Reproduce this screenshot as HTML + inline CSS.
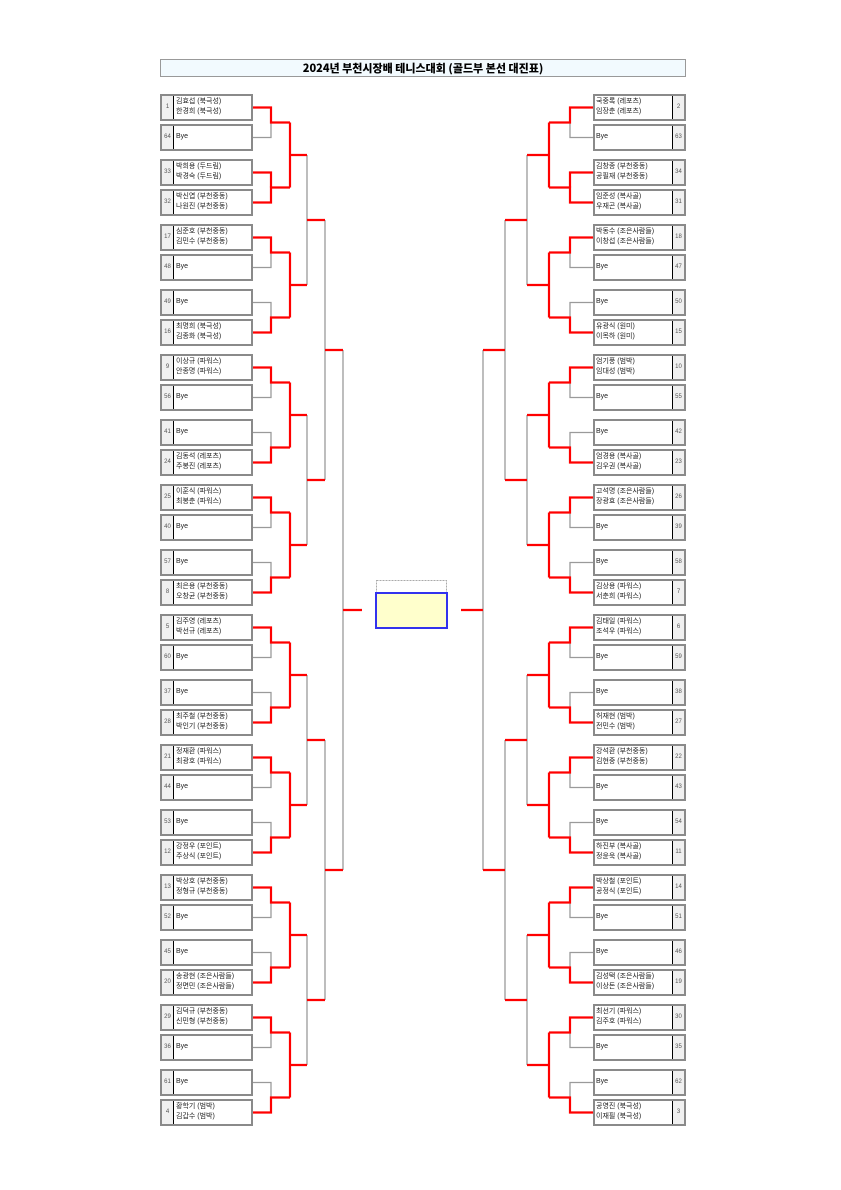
<!DOCTYPE html>
<html><head><meta charset="utf-8">
<style>
*{margin:0;padding:0;box-sizing:border-box}
body{width:841px;height:1190px;background:#fff;position:relative;overflow:hidden;font-family:"Liberation Sans","Noto Sans CJK KR","NanumGothic",sans-serif}
.t{position:absolute;left:160px;top:59px;width:526px;height:18px;border:1px solid #999;background:#f2fafe;text-align:center;font-size:11px;font-weight:900;line-height:16px;color:#000;font-family:"Noto Sans CJK KR","NanumGothic",sans-serif}
.b{position:absolute;width:93px;height:27px;border:2px solid #8a8a8a;background:#fff;font-size:7px;color:#222;line-height:10px}
.L{left:160px}.R{left:593px}
.n{position:absolute;top:0;width:12px;height:23px;background:#f0f0f0;font-size:6px;color:#555;text-align:center;line-height:23px}
.L .n{left:0;border-right:1.5px solid #000}
.R .n{right:0;border-left:1.5px solid #000}
.x{position:absolute;top:1px;white-space:nowrap}
.L .x{left:14px}.R .x{left:1px}
.x.one{top:6px}
svg{position:absolute;left:0;top:0}
</style></head><body>
<div class="t">2024년 부천시장배 테니스대회 (골드부 본선 대진표)</div>

<svg width="841" height="1190">
<defs>
<g id="lg" fill="none" stroke="#9a9a9a" stroke-width="1.3">
<path d="M253 137.5H271V122.5M253 172.5H271V187.5M253 267.5H271V252.5M253 302.5H271V317.5M307 155V285"/>
</g>
<g id="lr" fill="none" stroke="#f00" stroke-width="2.2">
<path d="M253 107.5H271V122.5H290M253 202.5H271V187.5H290M253 237.5H271V252.5H290M253 332.5H271V317.5H290M290 122.5V187.5M290 155H307M290 252.5V317.5M290 285H307M307 220H325"/>
</g>
<g id="rg" fill="none" stroke="#9a9a9a" stroke-width="1.3">
<path d="M593 137.5H570V122.5M593 172.5H570V187.5M593 267.5H570V252.5M593 302.5H570V317.5M527 155V285"/>
</g>
<g id="rr" fill="none" stroke="#f00" stroke-width="2.2">
<path d="M593 107.5H570V122.5H549M593 202.5H570V187.5H549M593 237.5H570V252.5H549M593 332.5H570V317.5H549M549 122.5V187.5M549 155H527M549 252.5V317.5M549 285H527M527 220H505"/>
</g>
</defs>
<use href="#lg"/><use href="#lg" transform="translate(0,260)"/><use href="#lg" transform="translate(0,520)"/><use href="#lg" transform="translate(0,780)"/>
<use href="#rg"/><use href="#rg" transform="translate(0,260)"/><use href="#rg" transform="translate(0,520)"/><use href="#rg" transform="translate(0,780)"/>
<path d="M325 220V480M325 740V1000M343 350V870M505 220V480M505 740V1000M483 350V870" fill="none" stroke="#9a9a9a" stroke-width="1.3"/>
<use href="#lr"/><use href="#lr" transform="translate(0,260)"/><use href="#lr" transform="translate(0,520)"/><use href="#lr" transform="translate(0,780)"/>
<use href="#rr"/><use href="#rr" transform="translate(0,260)"/><use href="#rr" transform="translate(0,520)"/><use href="#rr" transform="translate(0,780)"/>
<path d="M253 172.5H271V187.5M593 172.5H570V187.5M325 350H343M325 870H343M343 610H362M505 350H483M505 870H483M483 610H461" fill="none" stroke="#f00" stroke-width="2.2"/>
<rect x="376.5" y="580.5" width="70" height="13" fill="#fff" stroke="#aaa" stroke-width="1" stroke-dasharray="2,1"/>
<rect x="376" y="593" width="71" height="35" fill="#ffffcc" stroke="#3333ee" stroke-width="2"/>
</svg>

<!-- LEFT -->
<div class="b L" style="top:94px"><div class="n">1</div><div class="x">김효섭 (북극성)<br>한경희 (북극성)</div></div>
<div class="b L" style="top:124px"><div class="n">64</div><div class="x one">Bye</div></div>
<div class="b L" style="top:159px"><div class="n">33</div><div class="x">박희용 (두드림)<br>박경숙 (두드림)</div></div>
<div class="b L" style="top:189px"><div class="n">32</div><div class="x">박신엽 (부천중동)<br>나원진 (부천중동)</div></div>
<div class="b L" style="top:224px"><div class="n">17</div><div class="x">심준호 (부천중동)<br>김민수 (부천중동)</div></div>
<div class="b L" style="top:254px"><div class="n">48</div><div class="x one">Bye</div></div>
<div class="b L" style="top:289px"><div class="n">49</div><div class="x one">Bye</div></div>
<div class="b L" style="top:319px"><div class="n">16</div><div class="x">최명희 (북극성)<br>김종화 (북극성)</div></div>
<div class="b L" style="top:354px"><div class="n">9</div><div class="x">이상규 (파워스)<br>안종명 (파워스)</div></div>
<div class="b L" style="top:384px"><div class="n">56</div><div class="x one">Bye</div></div>
<div class="b L" style="top:419px"><div class="n">41</div><div class="x one">Bye</div></div>
<div class="b L" style="top:449px"><div class="n">24</div><div class="x">김동석 (레포츠)<br>주봉진 (레포츠)</div></div>
<div class="b L" style="top:484px"><div class="n">25</div><div class="x">이훈식 (파워스)<br>최봉춘 (파워스)</div></div>
<div class="b L" style="top:514px"><div class="n">40</div><div class="x one">Bye</div></div>
<div class="b L" style="top:549px"><div class="n">57</div><div class="x one">Bye</div></div>
<div class="b L" style="top:579px"><div class="n">8</div><div class="x">최은용 (부천중동)<br>오창균 (부천중동)</div></div>
<div class="b L" style="top:614px"><div class="n">5</div><div class="x">김주영 (레포츠)<br>박선규 (레포츠)</div></div>
<div class="b L" style="top:644px"><div class="n">60</div><div class="x one">Bye</div></div>
<div class="b L" style="top:679px"><div class="n">37</div><div class="x one">Bye</div></div>
<div class="b L" style="top:709px"><div class="n">28</div><div class="x">최주철 (부천중동)<br>박인기 (부천중동)</div></div>
<div class="b L" style="top:744px"><div class="n">21</div><div class="x">정재환 (파워스)<br>최광호 (파워스)</div></div>
<div class="b L" style="top:774px"><div class="n">44</div><div class="x one">Bye</div></div>
<div class="b L" style="top:809px"><div class="n">53</div><div class="x one">Bye</div></div>
<div class="b L" style="top:839px"><div class="n">12</div><div class="x">강정우 (포인트)<br>주상식 (포인트)</div></div>
<div class="b L" style="top:874px"><div class="n">13</div><div class="x">박상호 (부천중동)<br>정형규 (부천중동)</div></div>
<div class="b L" style="top:904px"><div class="n">52</div><div class="x one">Bye</div></div>
<div class="b L" style="top:939px"><div class="n">45</div><div class="x one">Bye</div></div>
<div class="b L" style="top:969px"><div class="n">20</div><div class="x">송광현 (조은사람들)<br>정면민 (조은사람들)</div></div>
<div class="b L" style="top:1004px"><div class="n">29</div><div class="x">김덕규 (부천중동)<br>신민형 (부천중동)</div></div>
<div class="b L" style="top:1034px"><div class="n">36</div><div class="x one">Bye</div></div>
<div class="b L" style="top:1069px"><div class="n">61</div><div class="x one">Bye</div></div>
<div class="b L" style="top:1099px"><div class="n">4</div><div class="x">황학기 (범박)<br>김갑수 (범박)</div></div>

<!-- RIGHT -->
<div class="b R" style="top:94px"><div class="n">2</div><div class="x">국중록 (레포츠)<br>임장춘 (레포츠)</div></div>
<div class="b R" style="top:124px"><div class="n">63</div><div class="x one">Bye</div></div>
<div class="b R" style="top:159px"><div class="n">34</div><div class="x">김창종 (부천중동)<br>공필재 (부천중동)</div></div>
<div class="b R" style="top:189px"><div class="n">31</div><div class="x">임준성 (복사골)<br>우재곤 (복사골)</div></div>
<div class="b R" style="top:224px"><div class="n">18</div><div class="x">박동수 (조은사람들)<br>이창섭 (조은사람들)</div></div>
<div class="b R" style="top:254px"><div class="n">47</div><div class="x one">Bye</div></div>
<div class="b R" style="top:289px"><div class="n">50</div><div class="x one">Bye</div></div>
<div class="b R" style="top:319px"><div class="n">15</div><div class="x">유광식 (원미)<br>이목하 (원미)</div></div>
<div class="b R" style="top:354px"><div class="n">10</div><div class="x">엄기풍 (범박)<br>임대성 (범박)</div></div>
<div class="b R" style="top:384px"><div class="n">55</div><div class="x one">Bye</div></div>
<div class="b R" style="top:419px"><div class="n">42</div><div class="x one">Bye</div></div>
<div class="b R" style="top:449px"><div class="n">23</div><div class="x">엄경용 (복사골)<br>김우권 (복사골)</div></div>
<div class="b R" style="top:484px"><div class="n">26</div><div class="x">고석명 (조은사람들)<br>장광효 (조은사람들)</div></div>
<div class="b R" style="top:514px"><div class="n">39</div><div class="x one">Bye</div></div>
<div class="b R" style="top:549px"><div class="n">58</div><div class="x one">Bye</div></div>
<div class="b R" style="top:579px"><div class="n">7</div><div class="x">김상용 (파워스)<br>서춘희 (파워스)</div></div>
<div class="b R" style="top:614px"><div class="n">6</div><div class="x">김태일 (파워스)<br>조석우 (파워스)</div></div>
<div class="b R" style="top:644px"><div class="n">59</div><div class="x one">Bye</div></div>
<div class="b R" style="top:679px"><div class="n">38</div><div class="x one">Bye</div></div>
<div class="b R" style="top:709px"><div class="n">27</div><div class="x">허재현 (범박)<br>전민수 (범박)</div></div>
<div class="b R" style="top:744px"><div class="n">22</div><div class="x">강석환 (부천중동)<br>김현중 (부천중동)</div></div>
<div class="b R" style="top:774px"><div class="n">43</div><div class="x one">Bye</div></div>
<div class="b R" style="top:809px"><div class="n">54</div><div class="x one">Bye</div></div>
<div class="b R" style="top:839px"><div class="n">11</div><div class="x">하진부 (복사골)<br>정윤욱 (복사골)</div></div>
<div class="b R" style="top:874px"><div class="n">14</div><div class="x">박상철 (포인트)<br>공정식 (포인트)</div></div>
<div class="b R" style="top:904px"><div class="n">51</div><div class="x one">Bye</div></div>
<div class="b R" style="top:939px"><div class="n">46</div><div class="x one">Bye</div></div>
<div class="b R" style="top:969px"><div class="n">19</div><div class="x">김성택 (조은사람들)<br>이상돈 (조은사람들)</div></div>
<div class="b R" style="top:1004px"><div class="n">30</div><div class="x">최선기 (파워스)<br>김주호 (파워스)</div></div>
<div class="b R" style="top:1034px"><div class="n">35</div><div class="x one">Bye</div></div>
<div class="b R" style="top:1069px"><div class="n">62</div><div class="x one">Bye</div></div>
<div class="b R" style="top:1099px"><div class="n">3</div><div class="x">공영진 (북극성)<br>이재필 (북극성)</div></div>
</body></html>
